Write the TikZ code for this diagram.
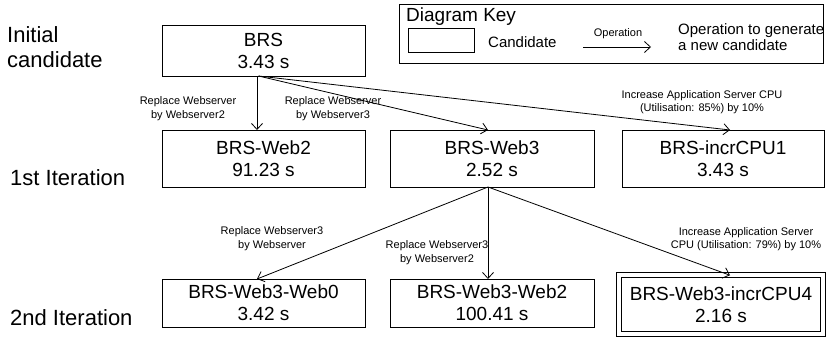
\documentclass[tikz,border=0pt]{standalone}
\usepackage{fontspec}
\setmainfont{Liberation Sans}
\usetikzlibrary{arrows.meta}
\newlength{\du}
\setlength{\du}{1pt}

\begin{document}
\begin{tikzpicture}[
  cand/.style={draw,line width=0.8\du,outer sep=0pt,inner sep=0pt,minimum width=203\du,align=center,font=\fontsize{19}{22}\selectfont},
  best/.style={cand,double,double distance=4\du},
  oplabel/.style={align=center,inner sep=0pt,font=\fontsize{11}{13.5}\selectfont},
  iterlabel/.style={anchor=west,align=left,inner sep=0pt,font=\fontsize{22}{25}\selectfont},
  op/.style={-{Straight Barb[length=6pt,width=11pt]},line width=0.8pt}
]
\pgftransformyscale{-1.000000}
\useasboundingbox (0\du,0\du) rectangle (827\du,338\du);
% left column
\node[iterlabel] (initlabel) at (7\du,47.5\du){Initial\\candidate};
\node[iterlabel] (firstlabel) at (10\du,178\du){1st Iteration};
\node[iterlabel] (secondlabel) at (10\du,318\du){2nd Iteration};
% candidates
\node[cand,minimum height=51\du] (brs) at (263.5\du,50.5\du){BRS\\3.43 s};
\node[cand,minimum height=57\du] (web2) at (263.5\du,158.5\du){BRS-Web2\\91.23 s};
\node[cand,minimum height=57\du,minimum width=204\du] (web3) at (492\du,158.5\du){BRS-Web3\\2.52 s};
\node[cand,minimum height=57\du,minimum width=202\du] (incr1) at (723\du,158.5\du){BRS-incrCPU1\\3.43 s};
\node[cand,minimum height=48\du] (web3web0) at (263.5\du,303\du){BRS-Web3-Web0\\3.42 s};
\node[cand,minimum height=48\du,minimum width=204\du] (web3web2) at (492\du,303\du){BRS-Web3-Web2\\100.41 s};
\node[best,minimum height=58.5\du,minimum width=204\du] (web3incr4) at (721\du,304.5\du){BRS-Web3-incrCPU4\\2.16 s};
% operations
\draw[op] ([xshift=-6.5pt]brs.south) -- ([xshift=-6.5pt]web2.north);
\draw[op] ([xshift=-5pt]brs.south) -- ([xshift=-4pt]web3.north);
\draw[op] ([xshift=-5pt]brs.south) -- ([xshift=7pt]incr1.north);
\draw[op] ([xshift=-4pt]web3.south) -- ([xshift=-6.5pt]web3web0.north);
\draw[op] ([xshift=-4pt]web3.south) -- ([xshift=-4pt]web3web2.north);
\draw[op] ([xshift=-4pt]web3.south) -- ([xshift=9pt]web3incr4.north);
\node[oplabel] (lweb2) at (188\du,108.5\du){Replace Webserver\\by Webserver2};
\node[oplabel] (lweb3) at (333\du,108.5\du){Replace Webserver\\by Webserver3};
\node[oplabel] (lincr1) at (702\du,102\du){Increase Application Server CPU\\(Utilisation: 85\%) by 10\%};
\node[oplabel] (lweb0) at (272\du,238.5\du){Replace Webserver3\\by Webserver};
\node[oplabel] (lweb32) at (437\du,252.5\du){Replace Webserver3\\by Webserver2};
\node[oplabel] (lincr4) at (746\du,239\du){Increase Application Server\\CPU (Utilisation: 79\%) by 10\%};
% key
\node[draw,line width=0.8\du,inner sep=0pt,minimum width=424\du,minimum height=59\du] (key) at (611\du,33.5\du){};
\node[anchor=west,inner sep=0pt,font=\fontsize{19}{22}\selectfont] (keytitle) at (406\du,17\du){Diagram Key};
\node[draw,line width=0.8\du,inner sep=0pt,minimum width=66\du,minimum height=24\du] (keycand) at (441\du,40.5\du){};
\node[anchor=west,inner sep=0pt,font=\fontsize{15}{17}\selectfont] (keycandtext) at (488\du,42\du){Candidate};
\coordinate (opstart) at (583\du,47\du);
\coordinate (opend) at (651\du,47\du);
\draw[op] (opstart) -- (opend);
\node[oplabel] (keyop) at (618\du,34\du){Operation};
\node[anchor=west,align=left,inner sep=0pt,font=\fontsize{15}{16}\selectfont] (keyoptext) at (678\du,37.5\du){Operation to generate\\a new candidate};
\end{tikzpicture}
\end{document}
